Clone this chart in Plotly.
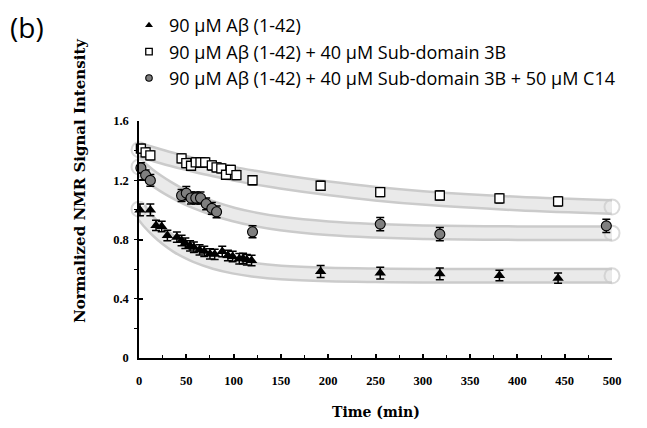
import plotly.graph_objects as go

# ---- data ----
tri_t = [1, 12, 18, 24, 30, 40, 45, 49, 54, 58, 64, 69, 75, 80, 88, 94, 99, 106, 110, 114, 119, 192, 255, 318, 381, 443]
tri_v = [1.0, 1.0, 0.895, 0.888, 0.827, 0.816, 0.793, 0.775, 0.757, 0.748, 0.73, 0.72, 0.703, 0.70, 0.719,
         0.692, 0.685, 0.67, 0.672, 0.663, 0.658, 0.584, 0.573, 0.568, 0.557, 0.539]
tri_e = [0.04, 0.04, 0.035, 0.035, 0.035, 0.035, 0.035, 0.035, 0.035, 0.035, 0.035, 0.035, 0.035, 0.035, 0.035,
         0.035, 0.035, 0.035, 0.035, 0.035, 0.035, 0.04, 0.04, 0.04, 0.035, 0.035]

sq_t = [2, 7, 12, 45, 50, 55, 60, 65, 70, 77, 82, 87, 92, 97, 103, 120, 192, 255, 318, 381, 443]
sq_v = [1.413, 1.388, 1.368, 1.348, 1.316, 1.298, 1.32, 1.32, 1.32, 1.30, 1.287, 1.28, 1.237, 1.27, 1.235,
        1.20, 1.163, 1.12, 1.097, 1.077, 1.057]
sq_e = [0.03] * len(sq_t)

circ_t = [2, 7, 12, 45, 50, 55, 60, 65, 71, 77, 82, 120, 255, 318, 494]
circ_v = [1.283, 1.235, 1.199, 1.097, 1.113, 1.08, 1.08, 1.08, 1.041, 1.01, 0.987, 0.852, 0.904, 0.836, 0.892]
circ_e = [0.035, 0.035, 0.04, 0.04, 0.045, 0.04, 0.04, 0.04, 0.04, 0.04, 0.04, 0.04, 0.045, 0.045, 0.045]

# fitted curves (grey bands), read at these times
fit_t = [0, 10, 20, 30, 40, 50, 60, 80, 100, 120, 150, 200, 250, 300, 400, 500]
fit_tri = [1.005, 0.923, 0.857, 0.802, 0.757, 0.721, 0.691, 0.646, 0.616, 0.596, 0.577, 0.563, 0.558, 0.556, 0.555, 0.555]
fit_sq = [1.406, 1.386, 1.367, 1.349, 1.332, 1.316, 1.300, 1.271, 1.244, 1.221, 1.190, 1.146, 1.109, 1.081, 1.043, 1.019]
fit_circ = [1.29, 1.237, 1.191, 1.150, 1.114, 1.082, 1.054, 1.007, 0.969, 0.940, 0.908, 0.876, 0.859, 0.849, 0.843, 0.843]

legend_names = ["90 µM Aβ (1-42)",
                "90 µM Aβ (1-42) + 40 µM Sub-domain 3B",
                "90 µM Aβ (1-42) + 40 µM Sub-domain 3B + 50 µM C14"]

x_ticks = [0, 50, 100, 150, 200, 250, 300, 350, 400, 450, 500]
y_ticks = [0, 0.4, 0.8, 1.2, 1.6]

fig = go.Figure()

end_sizes = [15] + [0] * (len(fit_t) - 2) + [15]
for fv in (fit_tri, fit_circ, fit_sq):
    fig.add_trace(go.Scatter(x=fit_t, y=fv, mode="lines", line=dict(color="#cbcbcb", width=16, shape="spline"),
                             showlegend=False, hoverinfo="skip", cliponaxis=False))
    fig.add_trace(go.Scatter(x=fit_t, y=fv, mode="lines+markers", line=dict(color="#eaeaea", width=11, shape="spline"),
                             marker=dict(symbol="circle-open", size=end_sizes, color="#cbcbcb", line=dict(width=2)),
                             showlegend=False, hoverinfo="skip", cliponaxis=False))

err_style = dict(type="data", visible=True, color="black", thickness=1.5, width=4)

tri_marker = dict(symbol="triangle-up", color="black")
sq_marker = dict(symbol="square", color="white", line=dict(color="black", width=1.3))
circ_marker = dict(symbol="circle", color="#7f7f7f", line=dict(color="black", width=1.1))

fig.add_trace(go.Scatter(x=tri_t, y=tri_v, mode="markers", showlegend=False,
                         error_y=dict(array=tri_e, **err_style),
                         marker=dict(size=10, **tri_marker), cliponaxis=False))
fig.add_trace(go.Scatter(x=sq_t, y=sq_v, mode="markers", showlegend=False,
                         error_y=dict(array=sq_e, **err_style),
                         marker=dict(size=9, **sq_marker), cliponaxis=False))
fig.add_trace(go.Scatter(x=circ_t, y=circ_v, mode="markers", showlegend=False,
                         error_y=dict(array=circ_e, **err_style),
                         marker=dict(size=10, **circ_marker), cliponaxis=False))

# legend-only entries (small symbols, no error bars)
for name, mk, sz in zip(legend_names, (tri_marker, sq_marker, circ_marker), (7, 6.5, 6.5)):
    fig.add_trace(go.Scatter(x=[None], y=[None], mode="markers", name=name, marker=dict(size=sz, **mk)))

tick_font = dict(family="Liberation Serif", size=12.5, color="black")

pw = 647 - 139 - 35
ph = 428 - 121 - 70

fig.update_layout(
    width=647, height=428,
    margin=dict(l=139, r=35, t=121, b=70, autoexpand=False),
    plot_bgcolor="white", paper_bgcolor="white",
    showlegend=True,
    legend=dict(x=(129 - 139) / pw, y=(358 - 7) / ph, xanchor="left", yanchor="top", bgcolor="rgba(0,0,0,0)",
                font=dict(family="Open Sans", size=18, color="black"),
                itemsizing="trace", tracegroupgap=0, itemwidth=30),
    xaxis=dict(range=[0, 500], tickvals=x_ticks, ticktext=[f"<b>{v}</b>" for v in x_ticks],
               showline=True, linecolor="black", linewidth=1.5, ticks="inside", ticklen=4,
               tickcolor="black", tickwidth=1.5, showgrid=False, zeroline=False,
               minor=dict(dtick=25, ticks="inside", ticklen=3, tickcolor="black", tickwidth=1),
               tickfont=tick_font, ticklabelstandoff=10),
    yaxis=dict(range=[0, 1.6], tickvals=y_ticks, ticktext=[f"<b>{v:g}</b>" for v in y_ticks],
               showline=True, linecolor="black", linewidth=1.5, ticks="inside", ticklen=4,
               tickcolor="black", tickwidth=1.5, showgrid=False, zeroline=False,
               minor=dict(dtick=0.2, ticks="outside", ticklen=3, tickcolor="black", tickwidth=1),
               tickfont=tick_font, ticklabelstandoff=6),
    annotations=[
        dict(text="<b>Time (min)</b>", x=(376 - 139) / pw, y=(358 - 412) / ph, xref="paper", yref="paper",
             xanchor="center", yanchor="middle",
             showarrow=False, font=dict(family="DejaVu Serif", size=14, color="black")),
        dict(text="<b>Normalized NMR Signal Intensity</b>", x=(80 - 139) / pw, y=(358 - 181) / ph,
             xref="paper", yref="paper", xanchor="center", yanchor="middle",
             showarrow=False, textangle=-90, font=dict(family="DejaVu Serif", size=15, color="black")),
        dict(text="(b)", x=(8 - 139) / pw, y=(358 - 27) / ph, xref="paper", yref="paper",
             xanchor="left", yanchor="middle",
             showarrow=False, font=dict(family="Open Sans", size=28, color="black")),
    ],
)

fig.write_html("out.html")
